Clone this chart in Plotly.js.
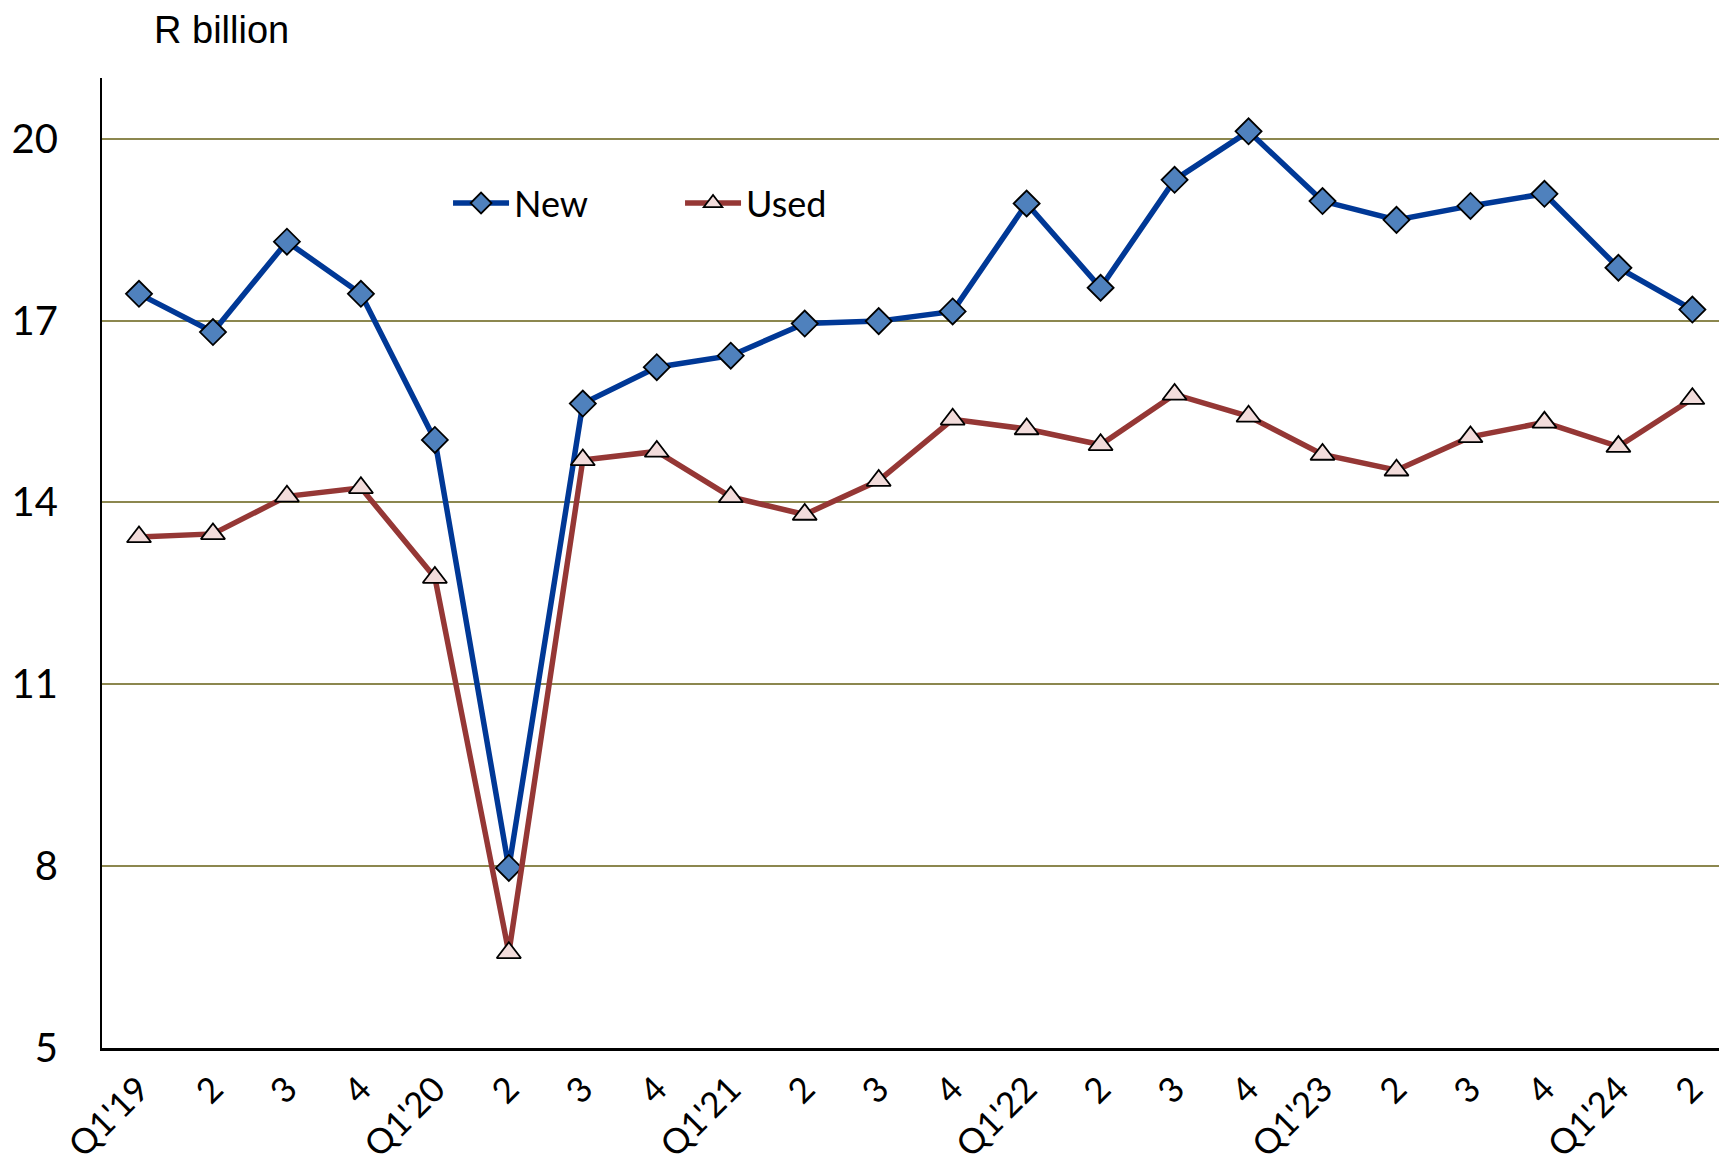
<!DOCTYPE html>
<html>
<head>
<meta charset="utf-8">
<script src="https://cdn.plot.ly/plotly-3.0.1.min.js"></script>
<style>html,body{margin:0;padding:0;background:#fff;}#chart{width:1719px;height:1167px;}</style>
</head>
<body>
<div id="chart"></div>
<script>
const quarters = ["Q1'19","2","3","4","Q1'20","2","3","4","Q1'21","2","3","4","Q1'22","2","3","4","Q1'23","2","3","4","Q1'24","2"];
const newSales = [17.44,16.81,18.30,17.44,15.03,7.97,15.63,16.23,16.42,16.95,16.99,17.15,18.93,17.54,19.32,20.12,18.97,18.66,18.89,19.09,17.87,17.18];
const usedSales = [13.43,13.48,14.10,14.24,12.76,6.57,14.70,14.84,14.09,13.80,14.36,15.37,15.21,14.95,15.78,15.42,14.79,14.53,15.08,15.32,14.92,15.71];
const yTicks = [5,8,11,14,17,20];

const xIdx = quarters.map((_, i) => i);

const traces = [
  {
    x: xIdx, y: newSales, name: 'New', type: 'scatter', mode: 'lines+markers',
    line: {color: '#003896', width: 5.5},
    marker: {symbol: 'diamond', size: 20, color: '#4F81BD', line: {color: '#000000', width: 1.8}}
  },
  {
    x: xIdx, y: usedSales, name: 'Used', type: 'scatter', mode: 'lines+markers',
    line: {color: '#953735', width: 5.5},
    marker: {symbol: 'triangle-up', size: 21, color: '#F2DCDB', line: {color: '#000000', width: 1.8}}
  }
];

const layout = {
  width: 1719, height: 1167,
  margin: {l: 102, r: 0, t: 78, b: 119},
  paper_bgcolor: '#ffffff', plot_bgcolor: '#ffffff',
  showlegend: true,
  legend: {
    orientation: 'h', x: 0.214, y: 0.871, xanchor: 'left', yanchor: 'middle',
    bgcolor: 'rgba(0,0,0,0)', font: {family: 'Lato, sans-serif', size: 36, color: '#000'},
    entrywidth: 161, entrywidthmode: 'pixels', itemwidth: 56
  },
  xaxis: {
    range: [-0.5, 21.36], tickvals: xIdx, ticktext: quarters, tickangle: -45,
    showgrid: false, zeroline: false, showline: true, linecolor: '#000', linewidth: 2.5,
    ticks: '', tickfont: {family: 'Lato, sans-serif', size: 35, color: '#000'},
    ticklabelstandoff: 4
  },
  yaxis: {
    range: [5, 21], tickvals: yTicks, showgrid: true, gridcolor: '#8C874F', gridwidth: 2,
    zeroline: false, showline: true, linecolor: '#000', linewidth: 2,
    ticks: '', tickfont: {family: 'Lato, sans-serif', size: 40, color: '#000'},
    ticklabelstandoff: 34
  },
  annotations: [{
    text: 'R billion', xref: 'paper', yref: 'paper', x: 0.031, y: 1.0, xanchor: 'left', yanchor: 'bottom',
    yshift: 25, showarrow: false, font: {family: 'Liberation Sans, Arial, sans-serif', size: 38, color: '#000'}
  }]
};

Plotly.newPlot('chart', traces, layout, {displayModeBar: false, staticPlot: true});
</script>
</body>
</html>
